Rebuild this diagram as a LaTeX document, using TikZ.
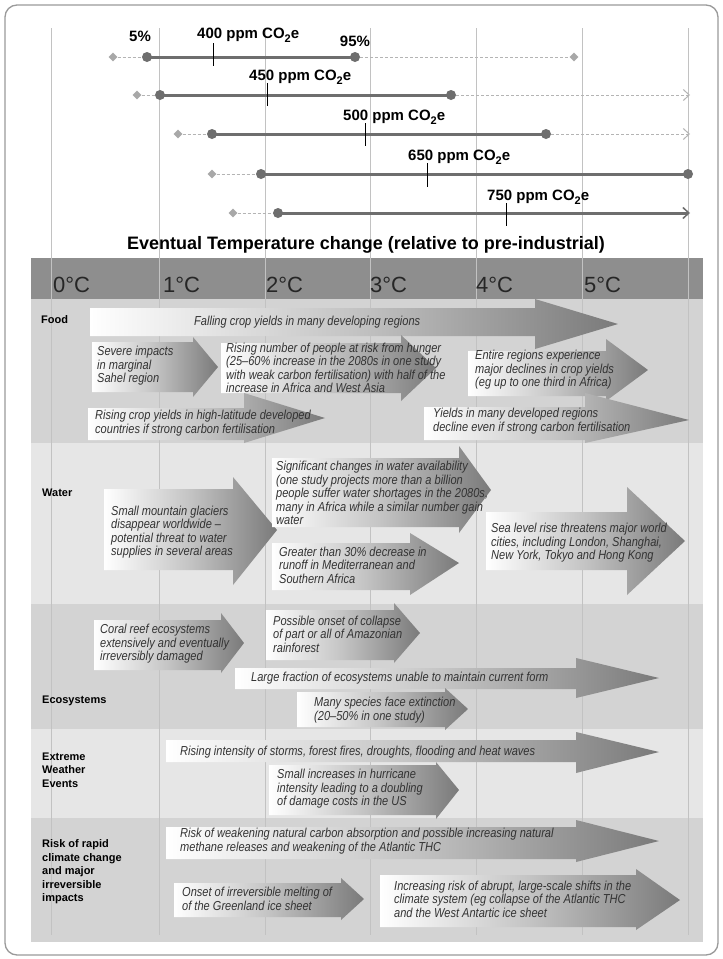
\documentclass[tikz,border=0pt]{standalone}
\usepackage{fontspec}
\setmainfont{Liberation Sans}
\newfontfamily\condit{Liberation Sans}[FakeStretch=0.85]
\usetikzlibrary{shapes.geometric,arrows.meta}
\definecolor{framegray}{HTML}{9A9A9A}
\definecolor{gridgray}{HTML}{C2C2C2}
\definecolor{headgray}{HTML}{8E8E8E}
\definecolor{banddark}{HTML}{D3D3D3}
\definecolor{bandlight}{HTML}{E6E6E6}
\definecolor{arrowgray}{HTML}{7A7A7A}
\definecolor{textgray}{HTML}{333333}
\definecolor{bargray}{HTML}{6E6E6E}
\definecolor{lightbar}{HTML}{B4B4B4}
\definecolor{dmdgray}{HTML}{A8A8A8}
\newcommand{\cotwo}{CO\raisebox{-4pt}{\fontsize{11}{11}\selectfont 2}e}
\tikzset{
  arrowfill/.style={left color=white, right color=arrowgray, middle color=arrowgray!45!white},
  itx/.style={font=\condit\itshape\fontsize{13}{13.5}\selectfont, text=textgray, align=left, anchor=west, inner sep=0pt},
  sect/.style={font=\bfseries\fontsize{11}{13.5}\selectfont, align=left, anchor=west, inner sep=0pt},
  tlabel/.style={font=\fontsize{22}{24}\selectfont, anchor=west, inner sep=0pt, text=black!85},
  ppm/.style={font=\bfseries\fontsize{15}{17}\selectfont, anchor=west, inner sep=0pt},
  solidbar/.style={line width=3pt, draw=bargray},
  dashbar/.style={line width=1pt, draw=lightbar, dash pattern=on 3pt off 2pt},
  enddot/.style={circle, fill=bargray, inner sep=0pt, minimum size=10pt},
  dmd/.style={diamond, fill=dmdgray, inner sep=0pt, minimum size=9pt},
  gridline/.style={draw=gridgray, line width=1pt},
  tickmark/.style={draw=black, line width=0.8pt}
}
% name, xl, yt, yb, xh, ht, hb, xt, ty
\newcommand{\barrow}[9]{%
  \path[arrowfill] (#2,#3) -- (#5,#3) -- (#5,#6) -- (#8,#9) -- (#5,#7) -- (#5,#4) -- (#2,#4) -- cycle;
  \coordinate (#1) at (#8,#9);
}
\begin{document}
\begin{tikzpicture}[x=1pt,y=-1pt]
\useasboundingbox (0,0) rectangle (723,959);
\fill[white] (0,0) rectangle (723,959);
\draw[framegray, line width=1.3pt, rounded corners=12pt] (5,5) rectangle (718,955);

% bands
\fill[headgray] (31,258) rectangle (703,299);
\fill[banddark] (31,299) rectangle (703,443);
\fill[bandlight] (31,443) rectangle (703,604);
\fill[banddark] (31,604) rectangle (703,729);
\fill[bandlight] (31,729) rectangle (703,818);
\fill[banddark] (31,818) rectangle (703,942);

% grid lines
\foreach \gx in {51,159,265,370,476,582,688}
  \draw[gridline] (\gx,28) -- (\gx,935);

% temperature labels
\node[tlabel] (t0) at (53,285) {0°C};
\node[tlabel] (t1) at (163,285) {1°C};
\node[tlabel] (t2) at (266,285) {2°C};
\node[tlabel] (t3) at (370,285) {3°C};
\node[tlabel] (t4) at (476,285) {4°C};
\node[tlabel] (t5) at (584,285) {5°C};

\node[font=\bfseries\fontsize{18}{20}\selectfont, inner sep=0pt] (title) at (366,245) {Eventual Temperature change (relative to pre-industrial)};

% ---- top bars
% row 1
\node[dmd] (d1l) at (113,57) {};
\node[dmd] (d1r) at (574,57) {};
\draw[dashbar] (d1l) -- (147,57);
\draw[dashbar] (355,57) -- (d1r);
\draw[solidbar] (147,57) -- (355,57);
\node[enddot] (p1l) at (147,57) {};
\node[enddot] (p1r) at (355,57) {};
\draw[tickmark] (213,43) -- (213,66);
\node[ppm, anchor=center] (l5) at (140,36) {5\%};
\node[ppm, anchor=base west] (l400) at (197,38) {400 ppm \cotwo};
\node[ppm, anchor=center] (l95) at (355,41) {95\%};
% row 2
\coordinate (e2) at (690,95);
\node[dmd] (d2l) at (137,95) {};
\draw[dashbar] (d2l) -- (160,95);
\draw[dashbar, -{Straight Barb[length=6pt,width=11pt]}] (451,95) -- (e2);
\draw[solidbar] (160,95) -- (451,95);
\node[enddot] (p2l) at (160,95) {};
\node[enddot] (p2r) at (451,95) {};
\draw[tickmark] (267,83) -- (267,106);
\node[ppm, anchor=base west] (l450) at (249,80) {450 ppm \cotwo};
% row 3
\coordinate (e3) at (690,134);
\node[dmd] (d3l) at (178,134) {};
\draw[dashbar] (d3l) -- (212,134);
\draw[dashbar, -{Straight Barb[length=6pt,width=11pt]}] (546,134) -- (e3);
\draw[solidbar] (212,134) -- (546,134);
\node[enddot] (p3l) at (212,134) {};
\node[enddot] (p3r) at (546,134) {};
\draw[tickmark] (365,123) -- (365,146);
\node[ppm, anchor=base west] (l500) at (343,120) {500 ppm \cotwo};
% row 4
\node[dmd] (d4l) at (212,174) {};
\draw[dashbar] (d4l) -- (261,174);
\draw[solidbar] (261,174) -- (688,174);
\node[enddot] (p4l) at (261,174) {};
\node[enddot] (p4r) at (688,174) {};
\draw[tickmark] (427,163) -- (427,187);
\node[ppm, anchor=base west] (l650) at (408,160) {650 ppm \cotwo};
% row 5
\coordinate (e5) at (690,213);
\node[dmd] (d5l) at (233,213) {};
\draw[dashbar] (d5l) -- (278,213);
\draw[solidbar, line cap=butt, -{Straight Barb[length=6pt,width=11pt,line width=1.5pt]}] (278,213) -- (e5);
\node[enddot] (p5l) at (278,213) {};
\draw[tickmark] (506,203) -- (506,226);
\node[ppm, anchor=base west] (l750) at (487,200) {750 ppm \cotwo};

% ---- section labels
\node[sect] (sfood) at (41,320) {Food};
\node[sect] (swater) at (42,493) {Water};
\node[sect] (seco) at (42,701) {Ecosystems};
\node[sect] (sext) at (42,770) {Extreme\\Weather\\Events};
\node[sect] (srisk) at (42,872) {Risk of rapid\\climate change\\and major\\irreversible\\impacts};

% ---- Food arrows
\barrow{A1}{90}{308}{336}{535}{299}{349}{618}{324}
\node[itx] (tA1) at (194,322) {Falling crop yields in many developing regions};
\barrow{A2}{92}{342}{392}{193}{337}{397}{218}{367}
\node[itx] (tA2) at (97,366) {Severe impacts\\in marginal\\Sahel region};
\barrow{A3}{221}{343}{393}{401}{335}{401}{436}{368}
\node[itx] (tA3) at (226,368) {Rising number of people at risk from hunger\\(25–60\% increase in the 2080s in one study\\with weak carbon fertilisation) with half of the\\increase in Africa and West Asia};
\barrow{A4}{468}{351}{396}{606}{339}{401}{648}{370}
\node[itx] (tA4) at (475,370) {Entire regions experience\\major declines in crop yields\\(eg up to one third in Africa)};
\barrow{A5}{88}{408}{440}{244}{393}{443}{325}{418}
\node[itx] (tA5) at (95,423) {Rising crop yields in high-latitude developed\\countries if strong carbon fertilisation};
\barrow{A6}{424}{407}{440}{585}{393}{443}{689}{420}
\node[itx] (tA6) at (433,421) {Yields in many developed regions\\decline even if strong carbon fertilisation};

% ---- Water arrows
\barrow{W1}{104}{489}{570}{233}{477}{585}{277}{530}
\node[itx] (tW1) at (111,532) {Small mountain glaciers\\disappear worldwide –\\potential threat to water\\supplies in several areas};
\barrow{W2}{272}{458}{527}{459}{446}{533}{491}{490}
\node[itx] (tW2) at (276,493) {Significant changes in water availability\\(one study projects more than a billion\\people suffer water shortages in the 2080s,\\many in Africa while a similar number gain\\water};
\barrow{W3}{272}{543}{590}{410}{533}{595}{459}{563}
\node[itx] (tW3) at (279,565) {Greater than 30\% decrease in\\runoff in Mediterranean and\\Southern Africa};
\barrow{W4}{486}{512}{570}{627}{487}{595}{685}{541}
\node[itx] (tW4) at (491,543) {Sea level rise threatens major world\\cities, including London, Shanghai,\\New York, Tokyo and Hong Kong};

% ---- Ecosystem arrows
\barrow{E1}{94}{620}{670}{221}{613}{673}{244}{643}
\node[itx] (tE1) at (100,644) {Coral reef ecosystems\\extensively and eventually\\irreversibly damaged};
\barrow{E2}{266}{610}{660}{394}{603}{663}{420}{633}
\node[itx] (tE2) at (273,634) {Possible onset of collapse\\of part or all of Amazonian\\rainforest};
\barrow{E3}{235}{668}{689}{576}{658}{698}{659}{678}
\node[itx] (tE3) at (251,678) {Large fraction of ecosystems unable to maintain current form};
\barrow{E4}{297}{692}{727}{445}{688}{730}{468}{709}
\node[itx] (tE4) at (314,710) {Many species face extinction\\(20–50\% in one study)};

% ---- Extreme weather arrows
\barrow{X1}{166}{740}{762}{576}{732}{773}{659}{752}
\node[itx] (tX1) at (180,752) {Rising intensity of storms, forest fires, droughts, flooding and heat waves};
\barrow{X2}{269}{765}{815}{436}{762}{819}{459}{790}
\node[itx] (tX2) at (277,789) {Small increases in hurricane\\intensity leading to a doubling\\of damage costs in the US};

% ---- Risk arrows
\barrow{R1}{166}{827}{859}{576}{820}{862}{659}{841}
\node[itx] (tR1) at (180,841) {Risk of weakening natural carbon absorption and possible increasing natural\\methane releases and weakening of the Atlantic THC};
\barrow{R2}{174}{883}{917}{341}{878}{920}{364}{899}
\node[itx] (tR2) at (182,899) {Onset of irreversible melting of\\of the Greenland ice sheet};
\barrow{R3}{380}{875}{927}{636}{869}{930}{680}{900}
\node[itx] (tR3) at (394,899) {Increasing risk of abrupt, large-scale shifts in the\\climate system (eg collapse of the Atlantic THC\\and the West Antartic ice sheet};
\end{tikzpicture}
\end{document}
